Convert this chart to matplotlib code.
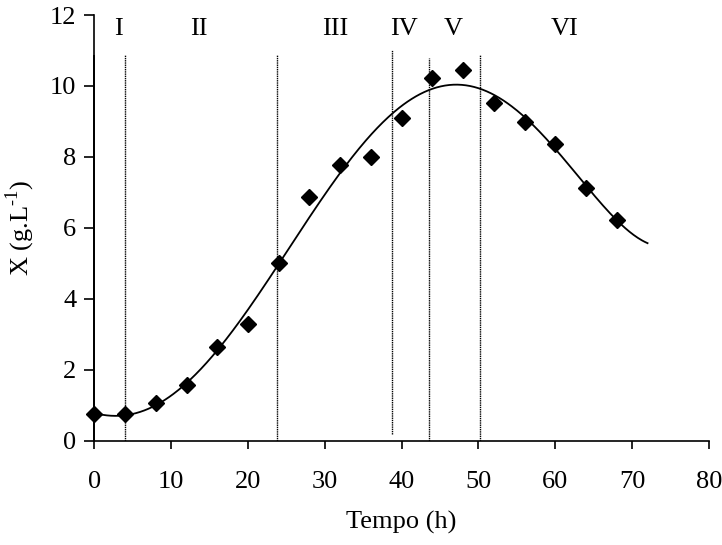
import numpy as np
import matplotlib
matplotlib.use("Agg")
import matplotlib.pyplot as plt

plt.rcParams["font.family"] = ["Liberation Serif", "DejaVu Serif"]
plt.rcParams["mathtext.fontset"] = "custom"
plt.rcParams["mathtext.rm"] = "Liberation Serif"

# Biomass measurements over the fermentation
tempo = [0, 4, 8, 12, 16, 20, 24, 28, 32, 36, 40, 44, 48, 52, 56, 60, 64, 68]
biomassa = [0.75, 0.76, 1.06, 1.56, 2.64, 3.30, 5.00, 6.86, 7.78, 8.00,
            9.11, 10.22, 10.45, 9.51, 8.97, 8.37, 7.13, 6.23]

# Phase boundaries (h) and phase labels
limites_fase = [0, 4, 23.8, 38.7, 43.5, 50.2]
fases = ["I", "II", "III", "IV", "V", "VI"]
pos_fases = [3.1, 13.6, 31.3, 40.3, 46.7, 61.2]

xticks = [0, 10, 20, 30, 40, 50, 60, 70, 80]
yticks = [0, 2, 4, 6, 8, 10, 12]

FS = 19

fig = plt.figure(figsize=(7.22, 5.45), dpi=100)
ax = fig.add_axes([94.3 / 722, 1 - 440.7 / 545,
                   (709 - 94.3) / 722, (440.7 - 15) / 545])

# Polynomial trend line through the measurements
coef = np.polyfit(tempo, biomassa, 6)
t_ajuste = np.linspace(0, 72, 400)
ax.plot(t_ajuste, np.polyval(coef, t_ajuste), color="black", lw=1.3, zorder=3)

ax.plot(tempo, biomassa, linestyle="none", marker="D", ms=8.3,
        color="black", zorder=4, clip_on=False)

# Phase separators
for xb in limites_fase:
    if xb == 0:
        ax.plot([xb, xb], [0, 10.85], color="black", lw=1.4, zorder=2,
                clip_on=False)
    else:
        top = {38.7: 11.0, 43.5: 10.8}.get(xb, 10.88)
        bot = 0.2 if xb == 38.7 else 0
        ax.plot([xb, xb], [bot, top], color="black", lw=1.0,
                linestyle=(0, (1, 0.6)), zorder=2)

for lab, xp in zip(fases, pos_fases):
    ax.text(xp, 11.6, lab, ha="center", va="center", fontsize=FS)

ax.set_xlim(0, 80)
ax.set_ylim(0, 12)
ax.set_xticks(xticks)
ax.set_yticks(yticks)
ax.tick_params(axis="both", labelsize=FS, direction="out", width=1.2,
               color="black")
ax.tick_params(axis="x", length=6, pad=16)
ax.tick_params(axis="y", length=7, pad=6)
for s in ["top", "right"]:
    ax.spines[s].set_visible(False)
for s in ["left", "bottom"]:
    ax.spines[s].set_linewidth(1.2)

fig.text(401 / 722, 1 - 522 / 545, "Tempo (h)", ha="center", va="center",
         fontsize=FS)
fig.text(20 / 722, 1 - 228 / 545, r"X (g.L$^{\text{-1}}$)",
         ha="center", va="center", rotation=90, fontsize=FS)

fig.savefig("out.png", dpi=100)
